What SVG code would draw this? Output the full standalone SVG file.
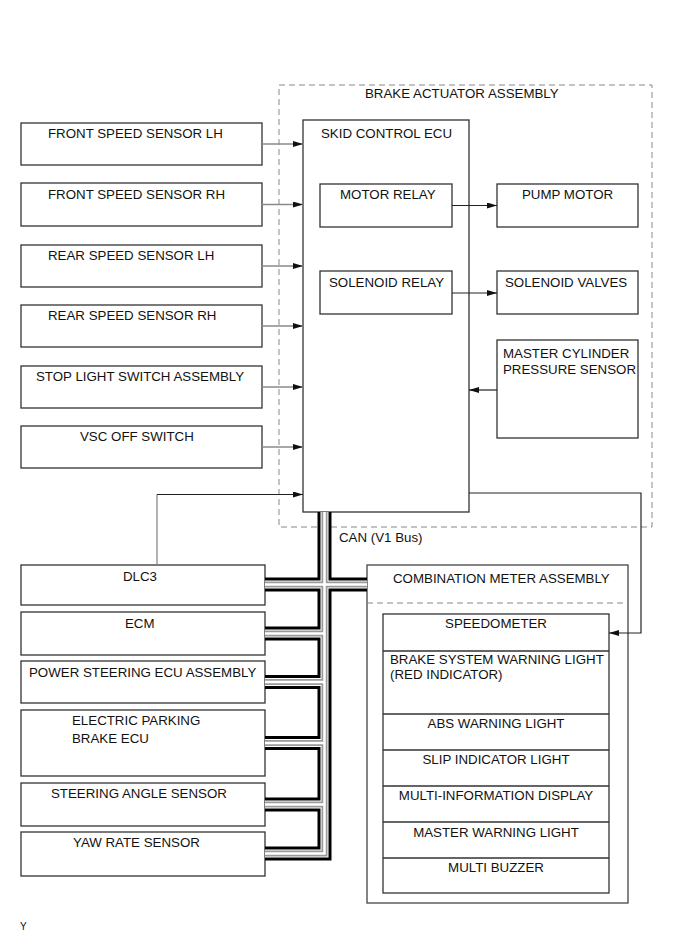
<svg xmlns="http://www.w3.org/2000/svg" xmlns:xlink="http://www.w3.org/1999/xlink" width="691" height="952" viewBox="0 0 691 952">
<style>
text{font-family:"Liberation Sans",Arial,sans-serif;font-size:13.3px;fill:#111}
.c{text-anchor:middle}
.box{fill:#fff;stroke:#333;stroke-width:1.3}
.dash{fill:none;stroke:#888;stroke-width:1;stroke-dasharray:6 4}
.ln{fill:none;stroke:#222;stroke-width:1.2}
.gl{fill:none;stroke:#8a8a8a;stroke-width:1.3}
.b1{fill:none;stroke:#000;stroke-width:14;stroke-linejoin:miter;stroke-linecap:butt}
.b2{fill:none;stroke:#fff;stroke-width:8;stroke-linejoin:miter;stroke-linecap:butt}
.b3{fill:none;stroke:#9a9a9a;stroke-width:6;stroke-linejoin:miter;stroke-linecap:butt}
.b4{fill:none;stroke:#fff;stroke-width:2.5;stroke-linejoin:miter;stroke-linecap:butt}
</style>
<defs>
<marker id="ah" viewBox="0 0 10 6" refX="10" refY="3" markerWidth="10" markerHeight="6" markerUnits="userSpaceOnUse" orient="auto">
<path d="M0,0 L10,3 L0,6 z" fill="#111"/>
</marker>
<path id="bus" d="M324.5,512 V853.5 H265 M265,584.5 H367 M265,633.5 H324.5 M265,682 H324.5 M265,743 H324.5 M265,804.5 H324.5"/>
</defs>
<rect width="691" height="952" fill="#fff"/>

<g id="brake-actuator-assembly">
<rect class="dash" x="279" y="85" width="373" height="442"/>
<text x="365" y="98">BRAKE ACTUATOR ASSEMBLY</text>
</g>

<g id="skid-control-ecu">
<rect class="box" x="303" y="120" width="166" height="392"/>
<text x="321" y="138">SKID CONTROL ECU</text>
</g>
<g id="motor-relay">
<rect class="box" x="320" y="184" width="132" height="43"/>
<text x="340" y="199">MOTOR RELAY</text>
</g>
<g id="solenoid-relay">
<rect class="box" x="320" y="271" width="132" height="43"/>
<text x="329" y="287">SOLENOID RELAY</text>
</g>
<g id="pump-motor">
<rect class="box" x="497" y="184" width="141" height="43"/>
<text x="522" y="199">PUMP MOTOR</text>
</g>
<g id="solenoid-valves">
<rect class="box" x="497" y="271" width="141" height="43"/>
<text x="505" y="287">SOLENOID VALVES</text>
</g>
<g id="master-cylinder-pressure-sensor">
<rect class="box" x="497" y="340" width="141" height="98"/>
<text x="503" y="358">MASTER CYLINDER</text>
<text x="503" y="374">PRESSURE SENSOR</text>
</g>

<g id="front-speed-sensor-lh">
<rect class="box" x="21" y="123" width="241" height="42"/>
<text x="48" y="138">FRONT SPEED SENSOR LH</text>
</g>
<g id="front-speed-sensor-rh">
<rect class="box" x="21" y="183" width="241" height="43"/>
<text x="48" y="199">FRONT SPEED SENSOR RH</text>
</g>
<g id="rear-speed-sensor-lh">
<rect class="box" x="21" y="245" width="241" height="42"/>
<text x="48" y="260">REAR SPEED SENSOR LH</text>
</g>
<g id="rear-speed-sensor-rh">
<rect class="box" x="21" y="305" width="241" height="42"/>
<text x="48" y="320">REAR SPEED SENSOR RH</text>
</g>
<g id="stop-light-switch">
<rect class="box" x="21" y="366" width="241" height="42"/>
<text x="36" y="381">STOP LIGHT SWITCH ASSEMBLY</text>
</g>
<g id="vsc-off-switch">
<rect class="box" x="21" y="426" width="241" height="42"/>
<text x="80" y="441">VSC OFF SWITCH</text>
</g>

<g id="dlc3">
<rect class="box" x="21" y="565" width="244" height="40"/>
<text x="123" y="581">DLC3</text>
</g>
<g id="ecm">
<rect class="box" x="21" y="612" width="244" height="43"/>
<text x="125" y="628">ECM</text>
</g>
<g id="power-steering-ecu">
<rect class="box" x="21" y="661" width="244" height="42"/>
<text x="29" y="677">POWER STEERING ECU ASSEMBLY</text>
</g>
<g id="electric-parking-brake-ecu">
<rect class="box" x="21" y="710" width="244" height="66"/>
<text x="72" y="725">ELECTRIC PARKING</text>
<text x="72" y="743">BRAKE ECU</text>
</g>
<g id="steering-angle-sensor">
<rect class="box" x="21" y="783" width="244" height="43"/>
<text x="51" y="798">STEERING ANGLE SENSOR</text>
</g>
<g id="yaw-rate-sensor">
<rect class="box" x="21" y="832" width="244" height="44"/>
<text x="73" y="847">YAW RATE SENSOR</text>
</g>

<g id="combination-meter-assembly">
<rect x="367" y="565" width="261" height="338" fill="#fff" stroke="#444" stroke-width="1.3"/>
<line class="dash" x1="367" y1="603" x2="628" y2="603"/>
<text x="393" y="583">COMBINATION METER ASSEMBLY</text>
<rect class="box" x="383" y="614" width="226" height="279"/>
<path d="M383,651 H609 M383,714 H609 M383,750 H609 M383,786 H609 M383,822 H609 M383,858 H609" stroke="#333" stroke-width="1.3" fill="none"/>
<text class="c" x="496" y="628">SPEEDOMETER</text>
<text x="390" y="664">BRAKE SYSTEM WARNING LIGHT</text>
<text x="390" y="679">(RED INDICATOR)</text>
<text class="c" x="496" y="728">ABS WARNING LIGHT</text>
<text class="c" x="496" y="764">SLIP INDICATOR LIGHT</text>
<text class="c" x="496" y="800">MULTI-INFORMATION DISPLAY</text>
<text class="c" x="496" y="837">MASTER WARNING LIGHT</text>
<text class="c" x="496" y="872">MULTI BUZZER</text>
</g>

<g id="connectors">
<line class="gl" x1="262" y1="144" x2="303" y2="144" marker-end="url(#ah)"/>
<line class="gl" x1="262" y1="204.5" x2="303" y2="204.5" marker-end="url(#ah)"/>
<line class="gl" x1="262" y1="266" x2="303" y2="266" marker-end="url(#ah)"/>
<line class="gl" x1="262" y1="326" x2="303" y2="326" marker-end="url(#ah)"/>
<line class="gl" x1="262" y1="387" x2="303" y2="387" marker-end="url(#ah)"/>
<line class="gl" x1="262" y1="447" x2="303" y2="447" marker-end="url(#ah)"/>
<line class="ln" x1="452" y1="205.5" x2="497" y2="205.5" marker-end="url(#ah)"/>
<line class="ln" x1="452" y1="293" x2="497" y2="293" marker-end="url(#ah)"/>
<line class="ln" x1="497" y1="390" x2="469" y2="390" marker-end="url(#ah)"/>
<path class="gl" d="M157,565 V494.5"/>
<path class="ln" d="M157,494.5 H303" marker-end="url(#ah)"/>
<path class="ln" d="M469,493 H641 V633 H609" marker-end="url(#ah)"/>
<g id="can-bus">
<use xlink:href="#bus" class="b1"/>
<use xlink:href="#bus" class="b2"/>
<use xlink:href="#bus" class="b3"/>
<use xlink:href="#bus" class="b4"/>
</g>
<text x="339" y="541.5">CAN (V1 Bus)</text>
</g>

<text x="20" y="930" style="font-size:10px">Y</text>
</svg>
